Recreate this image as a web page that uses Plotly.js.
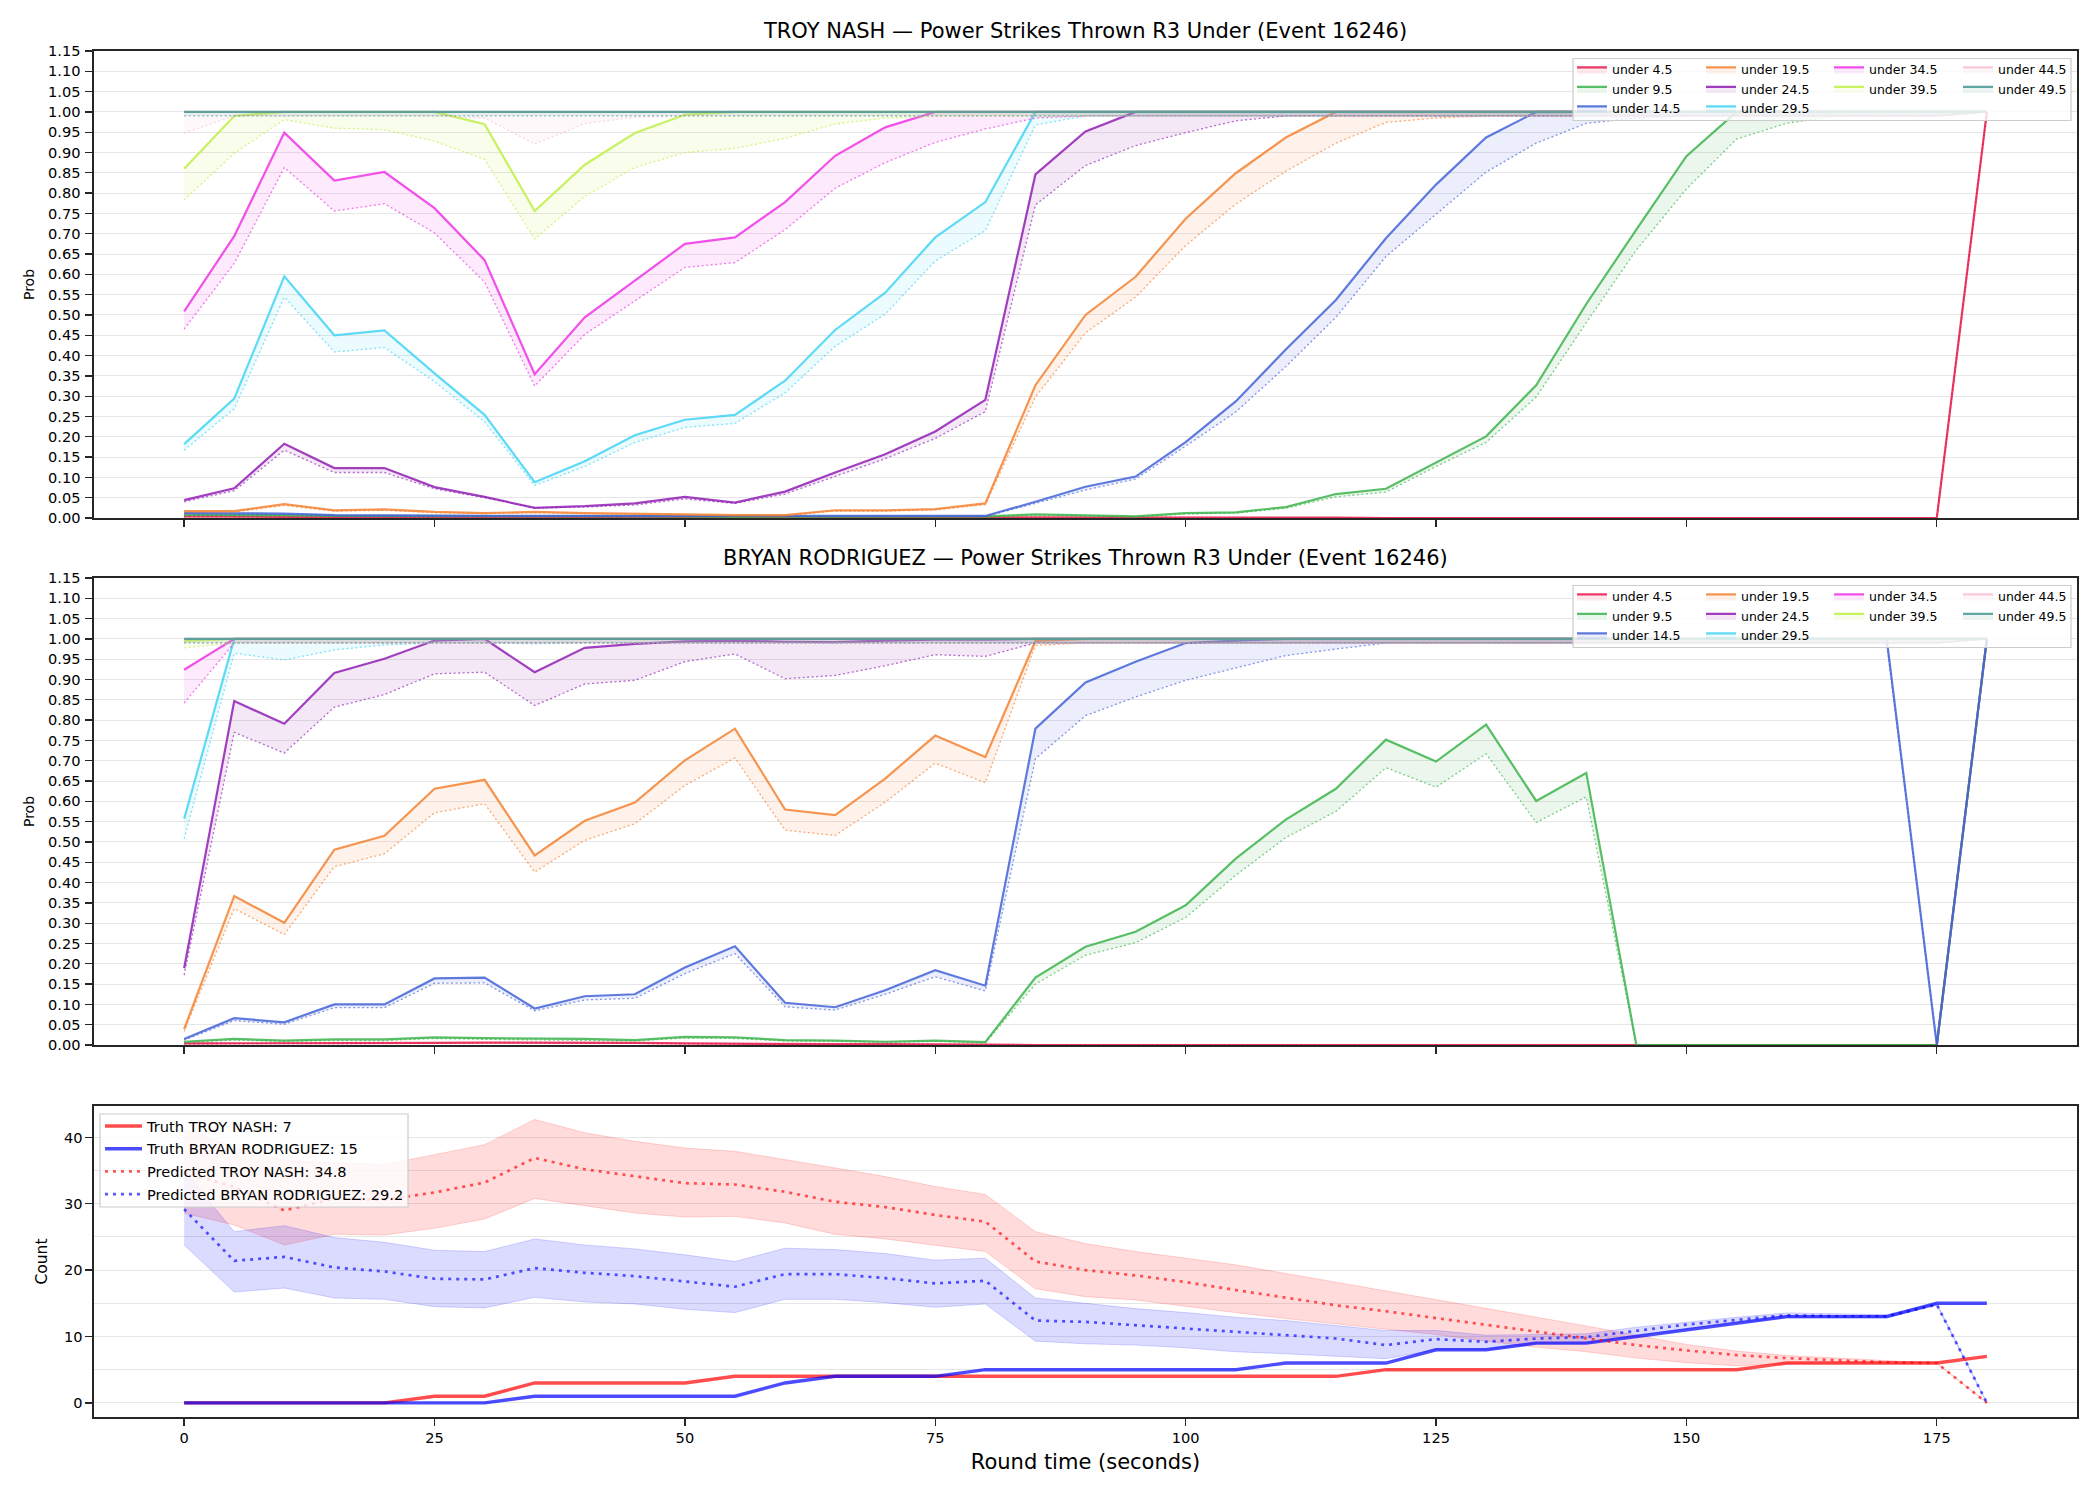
<!DOCTYPE html>
<html>
<head>
<meta charset="utf-8">
<script src="https://cdn.plot.ly/plotly-3.0.1.min.js"></script>
<style>
  html, body { margin: 0; padding: 0; background: #fff; }
  #chart { width: 2100px; height: 1500px; }
</style>
</head>
<body>
<div id="chart"></div>
<script>
// ---------- shared axis values ----------
const roundTime = [0, 5, 10, 15, 20, 25, 30, 35, 40, 45, 50, 55, 60, 65, 70, 75, 80, 85, 90,
  95, 100, 105, 110, 115, 120, 125, 130, 135, 140, 145, 150, 155, 160, 165, 170, 175, 180];
const timeTicks = [0, 25, 50, 75, 100, 125, 150, 175];
const thresholdNames = ['under 4.5', 'under 9.5', 'under 14.5', 'under 19.5', 'under 24.5',
  'under 29.5', 'under 34.5', 'under 39.5', 'under 44.5', 'under 49.5'];
const thresholdColors = ['#e6194b', '#3cb44b', '#4363d8', '#f58231', '#911eb4',
  '#42d4f4', '#f032e6', '#bfef45', '#fabed4', '#469990'];

// ---------- TROY NASH: under-line probabilities (solid) and lower line (dotted) ----------
const nashU4_5 = [0.004, 0.004, 0.003, 0.002, 0.002, 0.002, 0.002, 0.002, 0.002, 0.002, 0.002,
  0.001, 0.001, 0.001, 0.001, 0.001, 0.001, 0.001, 0.001, 0.001, 0.001, 0.001, 0.001, 0.001,
  0, 0, 0, 0, 0, 0, 0, 0, 0, 0, 0, 0, 1.0];
const nashU4_5Low = [0.003, 0.003, 0.002, 0.001, 0.001, 0.001, 0.001, 0.001, 0.001, 0.001, 0.001,
  0, 0, 0, 0, 0, 0, 0, 0, 0, 0, 0, 0, 0, 0, 0, 0, 0, 0, 0, 0, 0, 0, 0, 0, 0, 1.0];
const nashU9_5 = [0.008, 0.008, 0.007, 0.005, 0.005, 0.005, 0.004, 0.004, 0.004, 0.004, 0.004,
  0.003, 0.003, 0.004, 0.004, 0.004, 0.004, 0.009, 0.007, 0.004, 0.012, 0.014, 0.027, 0.059,
  0.072, 0.137, 0.201, 0.327, 0.527, 0.710, 0.891, 1.0, 1.0, 1.0, 1.0, 1.0, 1.0];
const nashU9_5Low = [0.006, 0.006, 0.005, 0.004, 0.004, 0.004, 0.003, 0.003, 0.003, 0.003, 0.003,
  0.002, 0.002, 0.003, 0.003, 0.003, 0.003, 0.007, 0.006, 0.003, 0.010, 0.012, 0.024, 0.052,
  0.064, 0.127, 0.186, 0.298, 0.481, 0.660, 0.810, 0.933, 0.972, 0.990, 0.990, 0.990, 1.0];
const nashU14_5 = [0.012, 0.012, 0.011, 0.007, 0.006, 0.006, 0.005, 0.005, 0.005, 0.005, 0.005,
  0.004, 0.004, 0.004, 0.004, 0.004, 0.005, 0.040, 0.077, 0.102, 0.187, 0.287, 0.415, 0.537,
  0.689, 0.821, 0.937, 1.0, 1.0, 1.0, 1.0, 1.0, 1.0, 1.0, 1.0, 1.0, 1.0];
const nashU14_5Low = [0.010, 0.010, 0.009, 0.006, 0.005, 0.005, 0.004, 0.004, 0.004, 0.004, 0.004,
  0.003, 0.003, 0.003, 0.003, 0.003, 0.004, 0.036, 0.069, 0.096, 0.177, 0.261, 0.373, 0.494,
  0.644, 0.748, 0.852, 0.923, 0.972, 0.985, 0.990, 0.990, 0.990, 0.990, 0.990, 0.990, 1.0];
const nashU19_5 = [0.017, 0.017, 0.034, 0.019, 0.021, 0.015, 0.012, 0.015, 0.012, 0.011, 0.009,
  0.007, 0.007, 0.019, 0.019, 0.022, 0.036, 0.327, 0.500, 0.594, 0.737, 0.849, 0.937, 1.0,
  1.0, 1.0, 1.0, 1.0, 1.0, 1.0, 1.0, 1.0, 1.0, 1.0, 1.0, 1.0, 1.0];
const nashU19_5Low = [0.015, 0.015, 0.031, 0.017, 0.019, 0.013, 0.011, 0.013, 0.011, 0.010, 0.008,
  0.006, 0.006, 0.017, 0.017, 0.020, 0.033, 0.298, 0.456, 0.544, 0.671, 0.773, 0.854, 0.923,
  0.974, 0.985, 0.990, 0.990, 0.990, 0.990, 0.990, 0.990, 0.990, 0.990, 0.990, 0.990, 1.0];
const nashU24_5 = [0.044, 0.073, 0.183, 0.123, 0.123, 0.076, 0.052, 0.025, 0.029, 0.036, 0.052,
  0.038, 0.065, 0.112, 0.157, 0.213, 0.291, 0.846, 0.952, 1.0, 1.0, 1.0, 1.0, 1.0,
  1.0, 1.0, 1.0, 1.0, 1.0, 1.0, 1.0, 1.0, 1.0, 1.0, 1.0, 1.0, 1.0];
const nashU24_5Low = [0.040, 0.067, 0.167, 0.112, 0.112, 0.072, 0.050, 0.025, 0.027, 0.032, 0.047,
  0.036, 0.059, 0.102, 0.146, 0.196, 0.262, 0.771, 0.868, 0.917, 0.949, 0.978, 0.990, 0.990,
  0.990, 0.990, 0.990, 0.990, 0.990, 0.990, 0.990, 0.990, 0.990, 0.990, 0.990, 0.990, 1.0];
const nashU29_5 = [0.182, 0.294, 0.595, 0.450, 0.462, 0.356, 0.254, 0.088, 0.140, 0.204, 0.242,
  0.254, 0.338, 0.463, 0.555, 0.691, 0.778, 1.0, 1.0, 1.0, 1.0, 1.0, 1.0, 1.0,
  1.0, 1.0, 1.0, 1.0, 1.0, 1.0, 1.0, 1.0, 1.0, 1.0, 1.0, 1.0, 1.0];
const nashU29_5Low = [0.167, 0.269, 0.544, 0.409, 0.420, 0.336, 0.237, 0.080, 0.127, 0.186, 0.223,
  0.233, 0.308, 0.423, 0.502, 0.633, 0.708, 0.968, 0.990, 0.990, 0.990, 0.990, 0.990, 0.990,
  0.990, 0.990, 0.990, 0.990, 0.990, 0.990, 0.990, 0.990, 0.990, 0.990, 0.990, 0.990, 1.0];
const nashU34_5 = [0.509, 0.694, 0.949, 0.831, 0.852, 0.763, 0.635, 0.354, 0.494, 0.585, 0.675,
  0.691, 0.778, 0.892, 0.962, 1.0, 1.0, 1.0, 1.0, 1.0, 1.0, 1.0, 1.0, 1.0,
  1.0, 1.0, 1.0, 1.0, 1.0, 1.0, 1.0, 1.0, 1.0, 1.0, 1.0, 1.0, 1.0];
const nashU34_5Low = [0.465, 0.627, 0.863, 0.756, 0.774, 0.702, 0.581, 0.325, 0.452, 0.535, 0.617,
  0.629, 0.710, 0.812, 0.875, 0.925, 0.958, 0.985, 0.990, 0.990, 0.990, 0.990, 0.990, 0.990,
  0.990, 0.990, 0.990, 0.990, 0.990, 0.990, 0.990, 0.990, 0.990, 0.990, 0.990, 0.990, 1.0];
const nashU39_5 = [0.860, 0.990, 1.0, 1.0, 1.0, 1.0, 0.970, 0.756, 0.870, 0.948, 0.993,
  1.0, 1.0, 1.0, 1.0, 1.0, 1.0, 1.0, 1.0, 1.0, 1.0, 1.0, 1.0, 1.0,
  1.0, 1.0, 1.0, 1.0, 1.0, 1.0, 1.0, 1.0, 1.0, 1.0, 1.0, 1.0, 1.0];
const nashU39_5Low = [0.783, 0.898, 0.981, 0.960, 0.956, 0.928, 0.883, 0.687, 0.792, 0.863, 0.900,
  0.910, 0.935, 0.970, 0.985, 0.990, 0.990, 0.990, 0.990, 0.990, 0.990, 0.990, 0.990, 0.990,
  0.990, 0.990, 0.990, 0.990, 0.990, 0.990, 0.990, 0.990, 0.990, 0.990, 0.990, 0.990, 1.0];
const nashU44_5 = [1.0, 1.0, 1.0, 1.0, 1.0, 1.0, 1.0, 1.0, 1.0, 1.0, 1.0, 1.0, 1.0,
  1.0, 1.0, 1.0, 1.0, 1.0, 1.0, 1.0, 1.0, 1.0, 1.0, 1.0, 1.0, 1.0,
  1.0, 1.0, 1.0, 1.0, 1.0, 1.0, 1.0, 1.0, 1.0, 1.0, 1.0];
const nashU44_5Low = [0.948, 0.990, 0.990, 0.990, 0.990, 0.990, 0.985, 0.921, 0.971, 0.987, 0.990,
  0.990, 0.990, 0.990, 0.990, 0.990, 0.990, 0.990, 0.990, 0.990, 0.990, 0.990, 0.990, 0.990,
  0.990, 0.990, 0.990, 0.990, 0.990, 0.990, 0.990, 0.990, 0.990, 0.990, 0.990, 0.990, 1.0];
const nashU49_5 = [1.0, 1.0, 1.0, 1.0, 1.0, 1.0, 1.0, 1.0, 1.0, 1.0, 1.0, 1.0, 1.0,
  1.0, 1.0, 1.0, 1.0, 1.0, 1.0, 1.0, 1.0, 1.0, 1.0, 1.0, 1.0, 1.0,
  1.0, 1.0, 1.0, 1.0, 1.0, 1.0, 1.0, 1.0, 1.0, 1.0, 1.0];
const nashU49_5Low = [0.990, 0.990, 0.990, 0.990, 0.990, 0.990, 0.990, 0.990, 0.990, 0.990, 0.990,
  0.990, 0.990, 0.990, 0.990, 0.990, 0.990, 0.990, 0.990, 0.990, 0.990, 0.990, 0.990, 0.990,
  0.990, 0.990, 0.990, 0.990, 0.990, 0.990, 0.990, 0.990, 0.990, 0.990, 0.990, 0.990, 1.0];

// ---------- BRYAN RODRIGUEZ: under-line probabilities (solid) and lower line (dotted) ----------
const rodU4_5 = [0.004, 0.004, 0.004, 0.004, 0.004, 0.005, 0.006, 0.006, 0.006, 0.005, 0.004,
  0.003, 0.003, 0.002, 0.002, 0.002, 0.001, 0, 0, 0, 0, 0, 0, 0,
  0, 0, 0, 0, 0, 0, 0, 0, 0, 0, 0, 0, 1.0];
const rodU4_5Low = [0.003, 0.003, 0.003, 0.003, 0.003, 0.004, 0.005, 0.005, 0.005, 0.004, 0.003,
  0.002, 0.002, 0.001, 0.001, 0.001, 0.001, 0, 0, 0, 0, 0, 0, 0,
  0, 0, 0, 0, 0, 0, 0, 0, 0, 0, 0, 0, 1.0];
const rodU9_5 = [0.008, 0.015, 0.011, 0.014, 0.014, 0.019, 0.017, 0.016, 0.015, 0.012, 0.020,
  0.019, 0.012, 0.011, 0.008, 0.011, 0.007, 0.166, 0.242, 0.279, 0.344, 0.459, 0.555, 0.631,
  0.752, 0.698, 0.789, 0.601, 0.670, 0, 0, 0, 0, 0, 0, 0, 1.0];
const rodU9_5Low = [0.006, 0.012, 0.009, 0.011, 0.011, 0.016, 0.014, 0.013, 0.012, 0.010, 0.017,
  0.016, 0.010, 0.009, 0.006, 0.009, 0.005, 0.150, 0.221, 0.252, 0.314, 0.418, 0.511, 0.575,
  0.683, 0.635, 0.717, 0.548, 0.611, 0, 0, 0, 0, 0, 0, 0, 1.0];
const rodU14_5 = [0.015, 0.066, 0.056, 0.100, 0.100, 0.164, 0.166, 0.090, 0.120, 0.125, 0.191,
  0.243, 0.104, 0.093, 0.135, 0.184, 0.146, 0.779, 0.893, 0.944, 0.990, 0.996, 1.0, 1.0,
  1.0, 1.0, 1.0, 1.0, 1.0, 1.0, 1.0, 1.0, 1.0, 1.0, 1.0, 0, 1.0];
const rodU14_5Low = [0.012, 0.060, 0.051, 0.092, 0.092, 0.152, 0.153, 0.084, 0.111, 0.115, 0.176,
  0.225, 0.094, 0.086, 0.125, 0.168, 0.133, 0.705, 0.811, 0.857, 0.898, 0.929, 0.959, 0.975,
  0.990, 0.990, 0.990, 0.990, 0.990, 0.990, 0.990, 0.990, 0.990, 0.990, 0.990, 0, 1.0];
const rodU19_5 = [0.039, 0.367, 0.301, 0.481, 0.515, 0.631, 0.653, 0.467, 0.552, 0.597, 0.701,
  0.779, 0.580, 0.566, 0.656, 0.762, 0.709, 0.995, 1.0, 1.0, 1.0, 1.0, 1.0, 1.0,
  1.0, 1.0, 1.0, 1.0, 1.0, 1.0, 1.0, 1.0, 1.0, 1.0, 1.0, 1.0, 1.0];
const rodU19_5Low = [0.033, 0.336, 0.272, 0.439, 0.471, 0.572, 0.594, 0.426, 0.504, 0.545, 0.639,
  0.707, 0.529, 0.516, 0.598, 0.694, 0.646, 0.984, 0.990, 0.990, 0.990, 0.990, 0.990, 0.990,
  0.990, 0.990, 0.990, 0.990, 0.990, 0.990, 0.990, 0.990, 0.990, 0.990, 0.990, 0.990, 1.0];
const rodU24_5 = [0.189, 0.847, 0.791, 0.916, 0.951, 0.996, 1.0, 0.918, 0.978, 0.988, 0.994,
  0.996, 0.993, 0.992, 0.996, 0.998, 0.998, 1.0, 1.0, 1.0, 1.0, 1.0, 1.0, 1.0,
  1.0, 1.0, 1.0, 1.0, 1.0, 1.0, 1.0, 1.0, 1.0, 1.0, 1.0, 1.0, 1.0];
const rodU24_5Low = [0.172, 0.770, 0.719, 0.832, 0.863, 0.914, 0.918, 0.836, 0.889, 0.898, 0.944,
  0.963, 0.902, 0.910, 0.934, 0.961, 0.957, 0.990, 0.990, 0.990, 0.990, 0.990, 0.990, 0.990,
  0.990, 0.990, 0.990, 0.990, 0.990, 0.990, 0.990, 0.990, 0.990, 0.990, 0.990, 0.990, 1.0];
const rodU29_5 = [0.557, 1.0, 1.0, 1.0, 1.0, 1.0, 1.0, 1.0, 1.0, 1.0, 1.0, 1.0, 1.0,
  1.0, 1.0, 1.0, 1.0, 1.0, 1.0, 1.0, 1.0, 1.0, 1.0, 1.0, 1.0, 1.0,
  1.0, 1.0, 1.0, 1.0, 1.0, 1.0, 1.0, 1.0, 1.0, 1.0, 1.0];
const rodU29_5Low = [0.508, 0.965, 0.948, 0.973, 0.985, 0.990, 0.990, 0.988, 0.990, 0.990, 0.990,
  0.990, 0.990, 0.990, 0.990, 0.990, 0.990, 0.990, 0.990, 0.990, 0.990, 0.990, 0.990, 0.990,
  0.990, 0.990, 0.990, 0.990, 0.990, 0.990, 0.990, 0.990, 0.990, 0.990, 0.990, 0.990, 1.0];
const rodU34_5 = [0.924, 1.0, 1.0, 1.0, 1.0, 1.0, 1.0, 1.0, 1.0, 1.0, 1.0, 1.0, 1.0,
  1.0, 1.0, 1.0, 1.0, 1.0, 1.0, 1.0, 1.0, 1.0, 1.0, 1.0, 1.0, 1.0,
  1.0, 1.0, 1.0, 1.0, 1.0, 1.0, 1.0, 1.0, 1.0, 1.0, 1.0];
const rodU34_5Low = [0.842, 0.990, 0.990, 0.990, 0.990, 0.990, 0.990, 0.990, 0.990, 0.990, 0.990,
  0.990, 0.990, 0.990, 0.990, 0.990, 0.990, 0.990, 0.990, 0.990, 0.990, 0.990, 0.990, 0.990,
  0.990, 0.990, 0.990, 0.990, 0.990, 0.990, 0.990, 0.990, 0.990, 0.990, 0.990, 0.990, 1.0];
const rodU39_5 = [0.995, 1.0, 1.0, 1.0, 1.0, 1.0, 1.0, 1.0, 1.0, 1.0, 1.0, 1.0, 1.0,
  1.0, 1.0, 1.0, 1.0, 1.0, 1.0, 1.0, 1.0, 1.0, 1.0, 1.0, 1.0, 1.0,
  1.0, 1.0, 1.0, 1.0, 1.0, 1.0, 1.0, 1.0, 1.0, 1.0, 1.0];
const rodU39_5Low = [0.978, 0.990, 0.990, 0.990, 0.990, 0.990, 0.990, 0.990, 0.990, 0.990, 0.990,
  0.990, 0.990, 0.990, 0.990, 0.990, 0.990, 0.990, 0.990, 0.990, 0.990, 0.990, 0.990, 0.990,
  0.990, 0.990, 0.990, 0.990, 0.990, 0.990, 0.990, 0.990, 0.990, 0.990, 0.990, 0.990, 1.0];
const rodU44_5 = [1.0, 1.0, 1.0, 1.0, 1.0, 1.0, 1.0, 1.0, 1.0, 1.0, 1.0, 1.0, 1.0,
  1.0, 1.0, 1.0, 1.0, 1.0, 1.0, 1.0, 1.0, 1.0, 1.0, 1.0, 1.0, 1.0,
  1.0, 1.0, 1.0, 1.0, 1.0, 1.0, 1.0, 1.0, 1.0, 1.0, 1.0];
const rodU44_5Low = [0.990, 0.990, 0.990, 0.990, 0.990, 0.990, 0.990, 0.990, 0.990, 0.990, 0.990,
  0.990, 0.990, 0.990, 0.990, 0.990, 0.990, 0.990, 0.990, 0.990, 0.990, 0.990, 0.990, 0.990,
  0.990, 0.990, 0.990, 0.990, 0.990, 0.990, 0.990, 0.990, 0.990, 0.990, 0.990, 0.990, 1.0];
const rodU49_5 = [1.0, 1.0, 1.0, 1.0, 1.0, 1.0, 1.0, 1.0, 1.0, 1.0, 1.0, 1.0, 1.0,
  1.0, 1.0, 1.0, 1.0, 1.0, 1.0, 1.0, 1.0, 1.0, 1.0, 1.0, 1.0, 1.0,
  1.0, 1.0, 1.0, 1.0, 1.0, 1.0, 1.0, 1.0, 1.0, 1.0, 1.0];
const rodU49_5Low = [0.990, 0.990, 0.990, 0.990, 0.990, 0.990, 0.990, 0.990, 0.990, 0.990, 0.990,
  0.990, 0.990, 0.990, 0.990, 0.990, 0.990, 0.990, 0.990, 0.990, 0.990, 0.990, 0.990, 0.990,
  0.990, 0.990, 0.990, 0.990, 0.990, 0.990, 0.990, 0.990, 0.990, 0.990, 0.990, 0.990, 1.0];

// ---------- strike counts: truth and prediction with band ----------
const nashTruth = [0, 0, 0, 0, 0, 1, 1, 3, 3, 3, 3, 4, 4, 4, 4, 4, 4, 4, 4,
  4, 4, 4, 4, 4, 5, 5, 5, 5, 5, 5, 5, 5, 6, 6, 6, 6, 7];
const rodTruth = [0, 0, 0, 0, 0, 0, 0, 1, 1, 1, 1, 1, 3, 4, 4, 4, 5, 5, 5,
  5, 5, 5, 6, 6, 6, 8, 8, 9, 9, 10, 11, 12, 13, 13, 13, 15, 15];
const nashPred = [34.8, 32.5, 29.0, 30.8, 30.6, 31.7, 33.2, 36.9, 35.2, 34.1, 33.1, 32.9, 31.8,
  30.3, 29.5, 28.3, 27.3, 21.3, 20.0, 19.2, 18.2, 17.0, 15.8, 14.7, 13.8, 12.8, 11.7, 10.8,
  9.7, 8.7, 7.9, 7.2, 6.75, 6.4, 6.1, 6.0, 0];
const nashPredHigh = [41.2, 38.6, 36.5, 36.2, 35.9, 37.4, 38.9, 42.7, 40.7, 39.4, 38.4, 37.9, 36.7,
  35.4, 34.1, 32.6, 31.4, 25.8, 24.0, 22.8, 21.8, 20.8, 19.5, 18.2, 16.8, 15.6, 14.3, 13.0,
  11.6, 10.2, 8.8, 7.8, 7.15, 6.75, 6.4, 6.0, 0];
const nashPredLow = [28.6, 26.8, 23.8, 25.4, 25.3, 26.3, 27.7, 30.8, 29.7, 28.6, 28.0, 28.1, 27.1,
  25.4, 24.7, 23.8, 22.8, 17.2, 16.0, 15.5, 14.5, 13.6, 12.7, 11.9, 11.2, 10.3, 9.3, 8.4,
  7.7, 6.75, 6.05, 5.6, 5.9, 6.0, 6.0, 6.0, 0];
const rodPred = [29.2, 21.4, 22.0, 20.4, 19.8, 18.7, 18.6, 20.3, 19.6, 19.1, 18.3, 17.5, 19.4,
  19.4, 18.8, 18.0, 18.4, 12.4, 12.2, 11.7, 11.3, 10.7, 10.2, 9.7, 8.7, 9.6, 9.2, 9.7,
  9.9, 10.9, 11.8, 12.5, 13.2, 13.05, 13.05, 14.8, 0];
const rodPredHigh = [35.0, 25.8, 26.7, 24.9, 24.2, 23.0, 22.8, 24.7, 23.8, 23.2, 22.3, 21.3, 23.3,
  23.1, 22.5, 21.5, 21.8, 15.8, 15.0, 14.2, 13.6, 12.9, 12.4, 11.7, 10.9, 10.9, 10.2, 10.3,
  10.4, 11.4, 12.2, 12.9, 13.55, 13.45, 13.3, 15.0, 0];
const rodPredLow = [23.8, 16.7, 17.3, 15.8, 15.6, 14.5, 14.3, 15.9, 15.2, 14.9, 14.1, 13.6, 15.6,
  15.6, 15.1, 14.4, 14.9, 9.3, 8.9, 8.7, 8.3, 7.7, 7.4, 7.0, 6.65, 8.0, 8.0, 9.0,
  9.0, 10.1, 11.1, 12.1, 12.8, 12.8, 12.8, 14.7, 0];

// ---------- layout geometry (pixels) ----------
const FONT = 'DejaVu Sans, Liberation Sans, sans-serif';
const W = 2100, H = 1500;
const M = { l: 94, r: 23, t: 51, b: 83 };
const PW = W - M.l - M.r;
const PH = H - M.t - M.b;
const px2x = px => (px - M.l) / PW;
const px2y = py => (H - M.b - py) / PH;

const TICK_SIZE = 14.6;
const legendColumn = [0, 0, 0, 1, 1, 1, 2, 2, 3, 3];
const legendColumnX = [1572, 1701, 1829, 1958];

function rgba(hex, a) {
  const n = parseInt(hex.slice(1), 16);
  return `rgba(${(n >> 16) & 255},${(n >> 8) & 255},${n & 255},${a})`;
}
function legendId(k) { return k === 1 ? 'legend' : 'legend' + k; }

const traces = [];

function addProbPanel(solidSets, lowSets, xa, ya, legendBase) {
  thresholdNames.forEach((name, i) => {
    const c = thresholdColors[i];
    const leg = legendId(legendBase + legendColumn[i]);
    const group = leg + '-' + i;
    traces.push({
      type: 'scatter', mode: 'lines', x: roundTime, y: lowSets[i], xaxis: xa, yaxis: ya,
      line: { color: rgba(c, 0.65), width: 1.3, dash: '2px,2.5px' },
      showlegend: false, legend: leg, legendgroup: group, hoverinfo: 'skip'
    });
    traces.push({
      type: 'scatter', mode: 'lines', x: roundTime, y: solidSets[i], xaxis: xa, yaxis: ya,
      name: name, line: { color: rgba(c, 0.85), width: 2.2 },
      fill: 'tonexty', fillcolor: rgba(c, 0.1),
      legend: leg, legendgroup: group
    });
  });
}

addProbPanel(
  [nashU4_5, nashU9_5, nashU14_5, nashU19_5, nashU24_5, nashU29_5, nashU34_5, nashU39_5, nashU44_5, nashU49_5],
  [nashU4_5Low, nashU9_5Low, nashU14_5Low, nashU19_5Low, nashU24_5Low, nashU29_5Low, nashU34_5Low, nashU39_5Low, nashU44_5Low, nashU49_5Low],
  'x', 'y', 1);
addProbPanel(
  [rodU4_5, rodU9_5, rodU14_5, rodU19_5, rodU24_5, rodU29_5, rodU34_5, rodU39_5, rodU44_5, rodU49_5],
  [rodU4_5Low, rodU9_5Low, rodU14_5Low, rodU19_5Low, rodU24_5Low, rodU29_5Low, rodU34_5Low, rodU39_5Low, rodU44_5Low, rodU49_5Low],
  'x2', 'y2', 5);

// prediction bands
function addBand(low, high, rgb) {
  const edge = `rgba(${rgb},0.16)`;
  traces.push({ type: 'scatter', mode: 'lines', x: roundTime, y: low, xaxis: 'x3', yaxis: 'y3',
    line: { color: edge, width: 1 }, showlegend: false, hoverinfo: 'skip' });
  traces.push({ type: 'scatter', mode: 'lines', x: roundTime, y: high, xaxis: 'x3', yaxis: 'y3',
    line: { color: edge, width: 1 }, fill: 'tonexty', fillcolor: `rgba(${rgb},0.14)`,
    showlegend: false, hoverinfo: 'skip' });
}
addBand(nashPredLow, nashPredHigh, '255,0,0');
addBand(rodPredLow, rodPredHigh, '0,0,255');

const countLines = [
  { y: nashTruth, name: `Truth TROY NASH: ${nashTruth[nashTruth.length - 1]}`, rgb: '255,0,0', dotted: false, rank: 1 },
  { y: rodTruth, name: `Truth BRYAN RODRIGUEZ: ${rodTruth[rodTruth.length - 1]}`, rgb: '0,0,255', dotted: false, rank: 2 },
  { y: nashPred, name: `Predicted TROY NASH: ${nashPred[0].toFixed(1)}`, rgb: '255,0,0', dotted: true, rank: 3 },
  { y: rodPred, name: `Predicted BRYAN RODRIGUEZ: ${rodPred[0].toFixed(1)}`, rgb: '0,0,255', dotted: true, rank: 4 }
];
countLines.forEach((s, i) => {
  traces.push({
    type: 'scatter', mode: 'lines', x: roundTime, y: s.y, xaxis: 'x3', yaxis: 'y3', name: s.name,
    line: s.dotted ? { color: `rgba(${s.rgb},0.65)`, width: 2.7, dash: '3px,5px' }
                   : { color: `rgba(${s.rgb},0.7)`, width: 3.4 },
    legend: 'legend9', legendgroup: 'count' + i, legendrank: s.rank
  });
});

// ---------- axes ----------
const axisLine = { showline: true, mirror: true, linecolor: '#262626', linewidth: 1.6 };
function xAxis(anchor, showLabels) {
  return Object.assign({
    anchor: anchor, domain: [0, 1], range: [-9, 189], tickmode: 'array', tickvals: timeTicks,
    ticks: 'outside', ticklen: 7, tickwidth: 1.3, tickcolor: '#262626',
    showticklabels: showLabels, showgrid: false, zeroline: false, fixedrange: true,
    tickfont: { family: FONT, size: TICK_SIZE, color: '#000' }
  }, axisLine);
}
function probAxis(anchor, domain) {
  return Object.assign({
    anchor: anchor, domain: domain, range: [0, 1.1500001], tick0: 0, dtick: 0.05, tickformat: '.2f',
    ticks: 'outside', ticklen: 7, tickwidth: 1.3, tickcolor: '#262626', ticklabelstandoff: 2,
    showgrid: true, gridcolor: '#e6e6e6', gridwidth: 1, zeroline: false, fixedrange: true,
    tickfont: { family: FONT, size: TICK_SIZE, color: '#000' },
    title: { text: 'Prob', font: { family: FONT, size: 14, color: '#000' }, standoff: 10 }
  }, axisLine);
}

const legends = {};
[[1, 54.8], [5, 581.8]].forEach(([base, topPx]) => {
  for (let c = 0; c < 4; c++) {
    legends[legendId(base + c)] = {
      x: px2x(legendColumnX[c]), y: px2y(topPx), xanchor: 'left', yanchor: 'top',
      bgcolor: 'rgba(0,0,0,0)', borderwidth: 0, tracegroupgap: 0.25,
      font: { family: FONT, size: 12.5, color: '#000' }
    };
  }
});
legends.legend9 = {
  x: px2x(100), y: px2y(1110), xanchor: 'left', yanchor: 'top',
  bgcolor: 'rgba(0,0,0,0)', borderwidth: 0,
  itemwidth: 37, tracegroupgap: 0.75, traceorder: 'grouped',
  font: { family: FONT, size: 14.6, color: '#000' }
};

function legendFrame(x0, x1, topPx, bottomPx) {
  return {
    type: 'rect', xref: 'paper', yref: 'paper', layer: 'above',
    x0: px2x(x0), x1: px2x(x1), y0: px2y(bottomPx), y1: px2y(topPx),
    fillcolor: 'rgba(255,255,255,0.8)', line: { color: '#cccccc', width: 1.2 }
  };
}

const layout = Object.assign({
  width: W, height: H,
  margin: M,
  paper_bgcolor: '#ffffff', plot_bgcolor: '#ffffff',
  font: { family: FONT, color: '#000' },
  title: {
    text: 'TROY NASH — Power Strikes Thrown R3 Under (Event 16246)',
    font: { family: FONT, size: 21, color: '#000' },
    x: 0.5, xref: 'paper', xanchor: 'center', y: 1 - 31 / H, yref: 'container', yanchor: 'middle'
  },
  annotations: [{
    text: 'BRYAN RODRIGUEZ — Power Strikes Thrown R3 Under (Event 16246)',
    font: { family: FONT, size: 21, color: '#000' }, showarrow: false,
    xref: 'paper', yref: 'paper', x: 0.5, y: px2y(558), xanchor: 'center', yanchor: 'middle'
  }],
  xaxis: xAxis('y', false),
  xaxis2: xAxis('y2', false),
  xaxis3: Object.assign(xAxis('y3', true), {
    title: { text: 'Round time (seconds)', font: { family: FONT, size: 21, color: '#000' }, standoff: 9 }
  }),
  yaxis: probAxis('x', [px2y(518), 1]),
  yaxis2: probAxis('x2', [px2y(1045), px2y(578)]),
  yaxis3: Object.assign({
    anchor: 'x3', domain: [0, px2y(1106)], range: [-2.13, 44.73], tickmode: 'array',
    tickvals: [0, 10, 20, 30, 40], ticks: 'outside', ticklen: 7, tickwidth: 1.3, tickcolor: '#262626',
    showgrid: true, gridcolor: '#e6e6e6', gridwidth: 1, zeroline: false, fixedrange: true,
    minor: { tick0: 0, dtick: 5, showgrid: true, gridcolor: '#e6e6e6', gridwidth: 1 },
    tickfont: { family: FONT, size: TICK_SIZE, color: '#000' },
    title: { text: 'Count', font: { family: FONT, size: 15.5, color: '#000' }, standoff: 12 }
  }, axisLine),
  shapes: [
    legendFrame(1573, 2071, 58.5, 120.5),
    legendFrame(1573, 2071, 585.5, 647.5),
    legendFrame(100, 408, 1114, 1207)
  ],
  hovermode: false
}, legends);

Plotly.newPlot('chart', traces, layout, { displayModeBar: false, staticPlot: true });
</script>
</body>
</html>
